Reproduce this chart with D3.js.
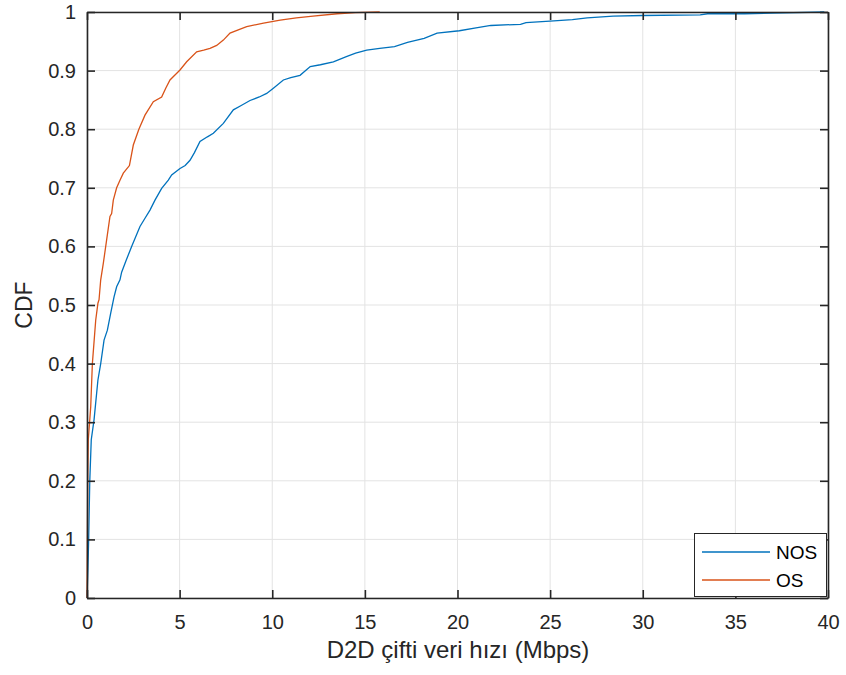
<!DOCTYPE html>
<html>
<head>
<meta charset="utf-8">
<script src="https://cdn.jsdelivr.net/npm/d3@7"></script>
<style>
  html, body { margin: 0; padding: 0; background: #fff; }
  svg { display: block; font-family: "Liberation Sans", Arial, Helvetica, sans-serif; }
</style>
</head>
<body>
<svg id="chart" width="846" height="675"></svg>
<script>
// ---- Data ----
const xTicks = [0, 5, 10, 15, 20, 25, 30, 35, 40];
const yTicks = [0, 0.1, 0.2, 0.3, 0.4, 0.5, 0.6, 0.7, 0.8, 0.9, 1];
const yTickLabels = ["0", "0.1", "0.2", "0.3", "0.4", "0.5", "0.6", "0.7", "0.8", "0.9", "1"];

const seriesNames = ["NOS", "OS"];

// NOS: data rate (Mbps) and CDF
const nosX = [0, 0.05, 0.09, 0.15, 0.23, 0.38, 0.59, 0.74, 0.92, 1.1, 1.28, 1.46, 1.6, 1.78, 1.87, 2.1, 2.41, 2.86, 3.13, 3.4, 3.67, 4.03, 4.39, 4.57, 5.02, 5.3, 5.56, 5.8, 6.1, 6.5, 6.82, 7.36, 7.9, 8.3, 8.8, 9.3, 9.7, 10.06, 10.6, 11.0, 11.5, 12.05, 12.6, 13.3, 14.0, 14.5, 15.1, 15.8, 16.6, 17.3, 18.2, 18.9, 20.1, 21.0, 21.8, 23.4, 23.7, 25.2, 26.2, 27.0, 28.4, 30.0, 33.1, 33.5, 35.5, 37.0, 39.8];
const nosY = [0, 0.05, 0.10, 0.20, 0.27, 0.304, 0.372, 0.40, 0.44, 0.457, 0.486, 0.514, 0.531, 0.543, 0.556, 0.575, 0.60, 0.634, 0.648, 0.662, 0.679, 0.699, 0.713, 0.722, 0.733, 0.738, 0.747, 0.76, 0.779, 0.787, 0.793, 0.81, 0.833, 0.840, 0.849, 0.855, 0.861, 0.870, 0.884, 0.888, 0.892, 0.907, 0.910, 0.915, 0.924, 0.930, 0.935, 0.938, 0.941, 0.948, 0.955, 0.964, 0.968, 0.973, 0.977, 0.979, 0.982, 0.985, 0.987, 0.990, 0.993, 0.994, 0.995, 0.997, 0.997, 0.998, 1.0];

// OS: data rate (Mbps) and CDF
const osX = [0, 0.02, 0.04, 0.07, 0.2, 0.29, 0.47, 0.59, 0.65, 0.74, 0.88, 1.06, 1.24, 1.33, 1.42, 1.6, 1.78, 1.96, 2.29, 2.5, 2.8, 3.13, 3.58, 4.03, 4.25, 4.48, 5.02, 5.38, 5.92, 6.3, 6.64, 7.0, 7.36, 7.72, 8.2, 8.62, 9.53, 10.43, 11.3, 12.2, 13.5, 14.5, 15.8];
const osY = [0, 0.10, 0.20, 0.27, 0.326, 0.40, 0.474, 0.503, 0.509, 0.543, 0.571, 0.611, 0.651, 0.656, 0.679, 0.70, 0.713, 0.725, 0.738, 0.773, 0.80, 0.824, 0.847, 0.855, 0.870, 0.884, 0.901, 0.915, 0.932, 0.935, 0.938, 0.943, 0.952, 0.964, 0.970, 0.975, 0.981, 0.986, 0.990, 0.993, 0.997, 0.999, 1.0];

const colors = ["#0072BD", "#D95319"];

// ---- Layout ----
const svg = d3.select("#chart");
const mLeft = 87, mRight = 828, mTop = 12, mBottom = 598;
const x = d3.scaleLinear().domain([0, 40]).range([mLeft, mRight]);
const y = d3.scaleLinear().domain([0, 1]).range([mBottom, mTop]);
const axisColor = "#262626";

// grid
const grid = svg.append("g");
grid.selectAll("line.gx").data(xTicks).enter().append("line")
  .attr("x1", d => x(d)).attr("x2", d => x(d))
  .attr("y1", mTop).attr("y2", mBottom)
  .attr("stroke", "#e3e3e3").attr("stroke-width", 1);
grid.selectAll("line.gy").data(yTicks).enter().append("line")
  .attr("x1", mLeft).attr("x2", mRight)
  .attr("y1", d => y(d)).attr("y2", d => y(d))
  .attr("stroke", "#e3e3e3").attr("stroke-width", 1);

// lines
const series = [
  { name: seriesNames[0], xs: nosX, ys: nosY, color: colors[0] },
  { name: seriesNames[1], xs: osX, ys: osY, color: colors[1] }
];
const line = d3.line().x(d => x(d[0])).y(d => y(d[1])).curve(d3.curveLinear);
series.forEach(s => {
  const pts = s.xs.map((v, i) => [v, s.ys[i]]);
  svg.append("path").datum(pts)
    .attr("d", line)
    .attr("fill", "none")
    .attr("stroke", s.color)
    .attr("stroke-width", 1.3);
});

// axes (ticks inward, box on)
const tickLen = 8;
const axB = svg.append("g").attr("transform", `translate(0,${mBottom})`)
  .call(d3.axisBottom(x).tickValues(xTicks).tickSizeInner(-tickLen).tickSizeOuter(0).tickPadding(17));
const axT = svg.append("g").attr("transform", `translate(0,${mTop})`)
  .call(d3.axisTop(x).tickValues(xTicks).tickSizeInner(-tickLen).tickSizeOuter(0).tickFormat(""));
const axL = svg.append("g").attr("transform", `translate(${mLeft},0)`)
  .call(d3.axisLeft(y).tickValues(yTicks).tickSizeInner(-tickLen).tickSizeOuter(0).tickPadding(11)
    .tickFormat((d, i) => yTickLabels[i]));
const axR = svg.append("g").attr("transform", `translate(${mRight},0)`)
  .call(d3.axisRight(y).tickValues(yTicks).tickSizeInner(-tickLen).tickSizeOuter(0).tickFormat(""));

[axB, axT, axL, axR].forEach(g => {
  g.selectAll(".domain").attr("stroke", axisColor).attr("stroke-width", 1.6);
  g.selectAll(".tick line").attr("stroke", axisColor).attr("stroke-width", 1.6);
  g.selectAll(".tick text").attr("fill", axisColor)
    .style("font-family", "'Liberation Sans', Arial, sans-serif").style("font-size", "20px");
});

// axis labels
svg.append("text")
  .attr("x", 458).attr("y", 658)
  .attr("text-anchor", "middle")
  .attr("fill", axisColor)
  .style("font-size", "24px")
  .text("D2D çifti veri hızı (Mbps)");
svg.append("text")
  .attr("transform", `translate(32,${(mTop + mBottom) / 2}) rotate(-90)`)
  .attr("text-anchor", "middle")
  .attr("fill", axisColor)
  .style("font-size", "23px")
  .text("CDF");

// legend
const lg = svg.append("g");
lg.append("rect")
  .attr("x", 694.5).attr("y", 533.5).attr("width", 132).attr("height", 63)
  .attr("fill", "#fff").attr("stroke", axisColor).attr("stroke-width", 1);
series.forEach((s, i) => {
  const ly = 552 + i * 28;
  lg.append("line").attr("x1", 702).attr("x2", 770).attr("y1", ly).attr("y2", ly)
    .attr("stroke", s.color).attr("stroke-width", 1.3);
  lg.append("text").attr("x", 776).attr("y", ly + 7)
    .attr("fill", "#000").style("font-size", "19px").text(s.name);
});
</script>
</body>
</html>
